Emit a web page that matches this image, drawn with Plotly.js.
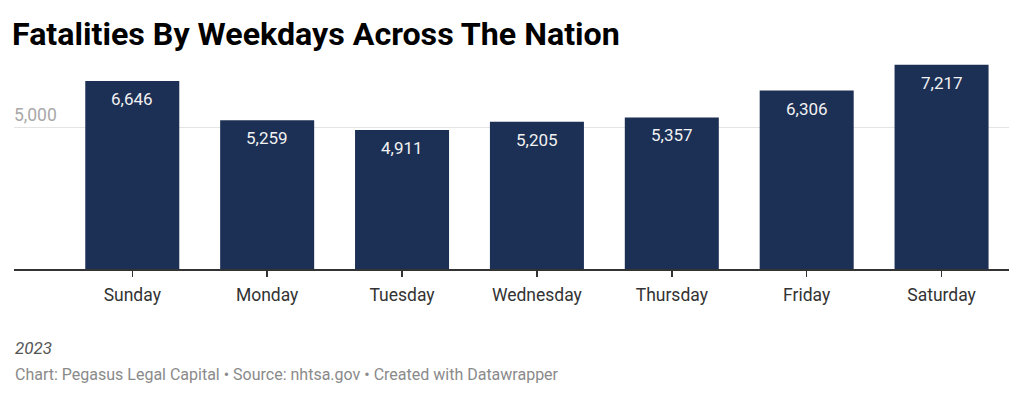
<!DOCTYPE html>
<html>
<head>
<meta charset="utf-8">
<script src="https://cdn.plot.ly/plotly-3.0.1.min.js"></script>
<style>
  html, body { margin: 0; padding: 0; background: #ffffff; }
  #chart { width: 1024px; height: 399px; }
</style>
</head>
<body>
<div id="chart"></div>
<script>
const categories = ["Sunday", "Monday", "Tuesday", "Wednesday", "Thursday", "Friday", "Saturday"];
const fatalities = [6646, 5259, 4911, 5205, 5357, 6306, 7217];
const yTickValues = [5000];
const yTickLabels = ["5,000"];
const chartTitle = "Fatalities By Weekdays Across The Nation";
const subtitleNote = "2023";
const footerText = "Chart: Pegasus Legal Capital • Source: nhtsa.gov • Created with Datawrapper";

const fmt = v => v.toLocaleString("en-US");
const FONT = "Roboto, 'Noto Sans', Arial, sans-serif";

const trace = {
  type: "bar",
  x: categories,
  y: fatalities,
  width: 0.697,
  marker: { color: "#1c2f55", line: { width: 0 } },
  hoverinfo: "skip"
};

const annotations = categories.map((c, i) => ({
  x: c, y: fatalities[i], xref: "x", yref: "y",
  text: fmt(fatalities[i]),
  showarrow: false, yanchor: "top", xanchor: "center",
  yshift: -6,
  font: { family: FONT, size: 17, color: "#f2f2f2" }
}));

yTickValues.forEach((v, i) => {
  annotations.push({
    x: 0, y: v, xref: "paper", yref: "y",
    text: yTickLabels[i], showarrow: false,
    xanchor: "left", yanchor: "bottom", xshift: -2, yshift: 1,
    font: { family: FONT, size: 17.5, color: "#a8a8a8" }
  });
});

annotations.push({
  x: 0, y: -0.378, xref: "paper", yref: "paper",
  text: "<i>" + subtitleNote + "</i>", showarrow: false,
  xanchor: "left", yanchor: "middle", xshift: -1,
  font: { family: FONT, size: 17, color: "#555555" }
});
annotations.push({
  x: 0, y: -0.507, xref: "paper", yref: "paper",
  text: footerText, showarrow: false,
  xanchor: "left", yanchor: "middle", xshift: -1,
  font: { family: FONT, size: 16, color: "#8a8a8a" }
});

const layout = {
  width: 1024, height: 399,
  paper_bgcolor: "#ffffff", plot_bgcolor: "#ffffff",
  margin: { l: 14, r: 15, t: 60, b: 130 },
  showlegend: false,
  title: {
    text: "<b>" + chartTitle + "</b>",
    xref: "container", yref: "container",
    x: 12 / 1024, xanchor: "left",
    y: 1 - 34 / 399, yanchor: "middle",
    font: { family: FONT, size: 32.2, color: "#000000" }
  },
  xaxis: {
    type: "category",
    range: [-0.877, 6.5],
    showgrid: false, zeroline: false,
    showline: true, linecolor: "#333333", linewidth: 1.5,
    ticks: "outside", ticklen: 6, tickcolor: "#333333", tickwidth: 1.5,
    tickfont: { family: FONT, size: 17.5, color: "#333333" },
    ticklabelstandoff: 3,
    fixedrange: true
  },
  yaxis: {
    range: [0, 7385],
    tickvals: yTickValues,
    showticklabels: false,
    showgrid: true, gridcolor: "#e4e4e4", gridwidth: 1,
    zeroline: false, showline: false, ticks: "",
    fixedrange: true
  },
  annotations: annotations
};

Plotly.newPlot("chart", [trace], layout, { displayModeBar: false, staticPlot: true });
</script>
</body>
</html>
